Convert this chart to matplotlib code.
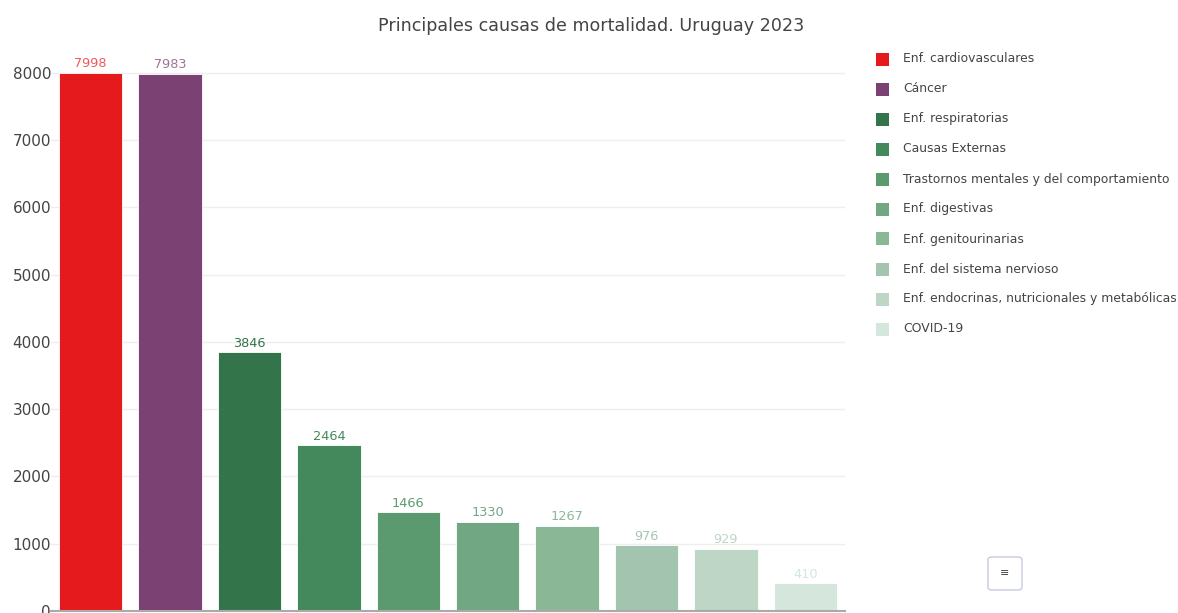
import matplotlib
matplotlib.use("Agg")
import matplotlib.pyplot as plt
from matplotlib.patches import Rectangle, FancyBboxPatch

plt.rcParams['font.family'] = ['DejaVu Sans']

categories = ["Enf. cardiovasculares", "Cáncer", "Enf. respiratorias", "Causas Externas",
              "Trastornos mentales y del comportamiento", "Enf. digestivas",
              "Enf. genitourinarias", "Enf. del sistema nervioso",
              "Enf. endocrinas, nutricionales y metabólicas", "COVID-19"]
values = [7998, 7983, 3846, 2464, 1466, 1330, 1267, 976, 929, 410]
colors = ["#e41a1c", "#7b4173", "#33744b", "#43895b", "#5a9a6e", "#72a784",
          "#8ab897", "#a3c5b0", "#bdd6c6", "#d5e6dc"]
label_colors = ["#f0595b", "#a0729a", "#33744b", "#43895b", "#5a9a6e", "#72a784",
                "#8ab897", "#a3c5b0", "#bdd6c6", "#d5e6dc"]
yticks = [0, 1000, 2000, 3000, 4000, 5000, 6000, 7000, 8000]

W, H = 1178, 613
fig = plt.figure(figsize=(W/100, H/100), dpi=100)
ax = fig.add_axes([51/W, 2/H, 794/W, 551/H])

for i, (v, c) in enumerate(zip(values, colors)):
    ax.bar(i, v, width=0.8, color=c, edgecolor="white", linewidth=0.6, zorder=2)
    ax.text(i, v + 40, str(v), ha="center", va="bottom", fontsize=9.3,
            color=label_colors[i], zorder=3)

ax.set_xlim(-0.5, 9.5)
ax.set_ylim(0, 8193)
ax.set_yticks(yticks)
ax.set_yticklabels([str(t) for t in yticks], fontsize=11, color="#444444")
ax.set_xticks([])
ax.grid(axis="y", color="#eeeeee", linewidth=1, zorder=0)
for s in ["top", "right", "left"]:
    ax.spines[s].set_visible(False)
ax.spines["bottom"].set_color("#aaaaaa")
ax.spines["bottom"].set_linewidth(1.5)
ax.tick_params(axis="y", length=0, pad=0)

fig.text(591/W, 1 - 26/H, "Principales causas de mortalidad. Uruguay 2023",
         ha="center", va="center", fontsize=12.6, color="#444444")

# legend
for i, (cat, c) in enumerate(zip(categories, colors)):
    yc = 59 + 30 * i
    fig.patches.append(Rectangle((876/W, 1 - (yc + 6.5)/H), 13/W, 13/H,
                                 transform=fig.transFigure, facecolor=c,
                                 edgecolor="none"))
    fig.text(903/W, 1 - yc/H, cat, ha="left", va="center", fontsize=8.9,
             color="#444444")

# menu button
fig.patches.append(FancyBboxPatch((988/W, 1 - 590/H), 34/W, 33/H,
                                  boxstyle="round,pad=0,rounding_size=0.004",
                                  transform=fig.transFigure, facecolor="white",
                                  edgecolor="#c5cbe0", linewidth=1))
fig.text(1005/W, 1 - 573/H, "≡", ha="center", va="center", fontsize=8,
         color="#444444")

fig.savefig("out.png", dpi=100)
